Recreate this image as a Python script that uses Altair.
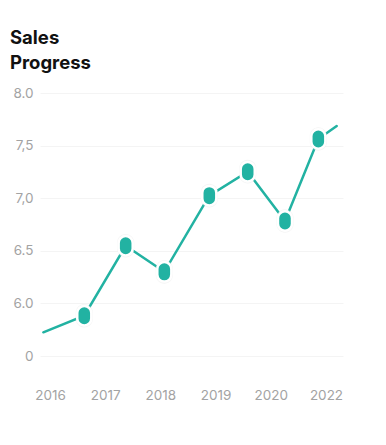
import altair as alt
import pandas as pd

# Data
x_pos = [-0.121, 0.621, 1.371, 2.071, 2.886, 3.582, 4.257, 4.861, 5.194]
sales = [5.725, 5.883, 6.548, 6.300, 7.024, 7.252, 6.783, 7.563, 7.686]
marker = [False, True, True, True, True, True, True, True, False]

x_tick_vals = [0, 1, 2, 3, 4, 5]
x_tick_labels = ["2016", "2017", "2018", "2019", "2020", "2022"]
y_tick_vals = [5.5, 6.0, 6.5, 7.0, 7.5, 8.0]
y_tick_labels = ["0", "6.0", "6.5", "7,0", "7,5", "8.0"]

df = pd.DataFrame({"x": x_pos, "v": sales, "m": marker})

teal = "#22b2a2"
label_color = "#a3a3a3"
font = "Inter"

x_label_expr = "[" + ",".join(f"'{s}'" for s in x_tick_labels) + "][round(datum.value)]"
y_map = ",".join(f"'{v:.1f}':'{s}'" for v, s in zip(y_tick_vals, y_tick_labels))
y_label_expr = "{" + y_map + "}[format(datum.value, '.1f')]"

x_enc = alt.X(
    "x:Q",
    scale=alt.Scale(domain=[-0.181, 5.308], nice=False, zero=False),
    axis=alt.Axis(
        values=x_tick_vals,
        labelExpr=x_label_expr,
        title=None,
        grid=False,
        domain=False,
        ticks=False,
        labelPadding=32,
        labelColor=label_color,
        labelFontSize=13.5,
        labelFont=font,
    ),
)
y_enc = alt.Y(
    "v:Q",
    scale=alt.Scale(domain=[5.5, 8.0], nice=False, zero=False),
    axis=alt.Axis(
        values=y_tick_vals,
        labelExpr=y_label_expr,
        title=None,
        grid=True,
        gridColor="#f4f4f4",
        gridWidth=1,
        domain=False,
        ticks=False,
        labelPadding=7,
        labelColor=label_color,
        labelFontSize=13.5,
        labelFont=font,
    ),
)

base = alt.Chart(df)

line = base.mark_line(color=teal, strokeWidth=2.5, strokeCap="round").encode(
    x=x_enc, y=y_enc, order="x:Q"
)

pill = "M-0.72,-0.28 A0.72,0.72 0 0 1 0.72,-0.28 L0.72,0.28 A0.72,0.72 0 0 1 -0.72,0.28 Z"
halo = (
    base.transform_filter("datum.m")
    .mark_point(shape=pill, size=560, filled=True, fill="#e8e8e8", opacity=0.45, strokeWidth=0)
    .encode(x="x:Q", y="v:Q")
)
points = (
    base.transform_filter("datum.m")
    .mark_point(
        shape=pill,
        size=380,
        filled=True,
        fill=teal,
        stroke="white",
        strokeWidth=2.5,
        opacity=1,
    )
    .encode(x="x:Q", y="v:Q")
)

chart = (
    alt.layer(line, halo, points)
    .properties(
        width=303,
        height=263,
        autosize=alt.AutoSizeParams(type="none"),
        padding={"left": 32, "top": 85, "right": 35, "bottom": 80},
        title=alt.TitleParams(
            text=["Sales", "Progress"],
            anchor="start",
            frame="group",
            dx=-30,
            offset=14,
            fontSize=18.5,
            fontWeight=700,
            lineHeight=25,
            font=font,
            color="#111111",
        ),
    )
    .configure_view(stroke=None)
)

chart.save("out.html", embed_options={"renderer": "svg", "actions": False})
